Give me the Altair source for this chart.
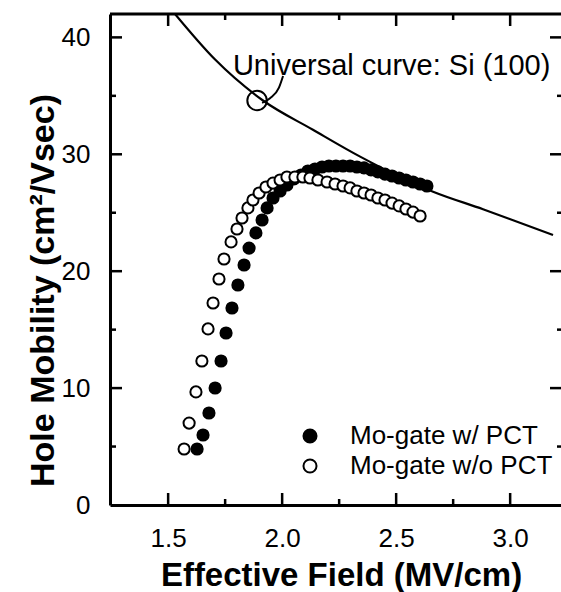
import altair as alt
import pandas as pd

# ---- data ----
E_with = [1.627, 1.653, 1.679, 1.706, 1.732, 1.754, 1.780, 1.806, 1.833, 1.855, 1.885, 1.912,
          1.934, 1.960, 1.991, 2.021, 2.052, 2.083, 2.113, 2.144, 2.175, 2.205, 2.236, 2.267,
          2.298, 2.328, 2.359, 2.390, 2.420, 2.451, 2.482, 2.513, 2.543, 2.574, 2.605, 2.635]
mu_with = [4.79, 5.99, 7.87, 10.01, 12.32, 14.71, 16.85, 18.82, 20.53, 21.98, 23.27, 24.38,
           25.41, 26.26, 26.86, 27.37, 27.89, 28.23, 28.57, 28.74, 28.91, 29.00, 29.00, 29.00,
           29.00, 28.91, 28.83, 28.66, 28.49, 28.31, 28.14, 27.97, 27.80, 27.63, 27.46, 27.29]

E_without = [1.570, 1.592, 1.622, 1.648, 1.675, 1.697, 1.723, 1.745, 1.776, 1.802, 1.824, 1.850,
             1.872, 1.899, 1.929, 1.960, 1.991, 2.021, 2.056, 2.091, 2.122, 2.157, 2.197, 2.232,
             2.267, 2.298, 2.328, 2.359, 2.390, 2.420, 2.451, 2.482, 2.513, 2.543, 2.574, 2.605]
mu_without = [4.79, 7.01, 9.67, 12.32, 15.06, 17.28, 19.33, 21.04, 22.50, 23.61, 24.55, 25.41,
              26.09, 26.69, 27.20, 27.54, 27.80, 28.06, 28.06, 28.06, 27.97, 27.80, 27.63, 27.46,
              27.29, 27.12, 26.86, 26.69, 26.52, 26.26, 26.09, 25.83, 25.58, 25.32, 25.06, 24.72]

E_univ = [1.53, 1.706, 1.916, 2.135, 2.342, 2.662, 2.881, 3.188]
mu_univ = [42.0, 38.1, 34.6, 32.1, 29.8, 26.8, 25.3, 23.1]

series_names = ["Mo-gate w/ PCT", "Mo-gate w/o PCT"]

annot_text = ["Universal curve: Si (100)"]
annot_E = [1.784]
annot_mu = [36.8]
leader_E = [2.004, 1.986, 1.947, 1.912]
leader_mu = [36.7, 35.7, 34.8, 34.4]
loop_E = [1.890]
loop_mu = [34.6]

xt_major = [1.5, 2.0, 2.5, 3.0]
xt_minor = [1.75, 2.25, 2.75]
yt_major = [10, 20, 30, 40]
yt_minor = [5, 15, 25, 35]
y_labels = [0, 10, 20, 30, 40]

# ---- layout ----
W, H = 451, 491
FONT = "Liberation Sans"
xs = alt.Scale(domain=[1.245, 3.223], nice=False, zero=False)
ys = alt.Scale(domain=[0, 42], nice=False, zero=False)

pts = pd.DataFrame({
    "E": E_with + E_without,
    "mu": mu_with + mu_without,
    "series": [series_names[0]] * len(E_with) + [series_names[1]] * len(E_without),
})

points = alt.Chart(pts).mark_point(
    shape="circle", filled=True, size=125, stroke="black", strokeWidth=2, opacity=1
).encode(
    x=alt.X("E:Q", scale=xs, axis=alt.Axis(
        values=xt_major, format=".1f", domain=True, domainWidth=3, domainColor="black",
        ticks=False, tickSize=0, grid=False, labelFontSize=26, labelFont=FONT,
        labelColor="black", labelPadding=20,
        title="Effective Field (MV/cm)", titleFont=FONT, titleFontSize=33,
        titleFontWeight="bold", titleColor="black", titleX=231, titleY=80,
        titleBaseline="alphabetic", titleAlign="center")),
    y=alt.Y("mu:Q", scale=ys, axis=alt.Axis(
        values=y_labels, format="d", domain=True, domainWidth=3, domainColor="black",
        ticks=False, tickSize=0, grid=False, labelFontSize=26, labelFont=FONT,
        labelColor="black", labelPadding=20,
        title="Hole Mobility (cm²/Vsec)", titleFont=FONT, titleFontSize=34,
        titleFontWeight="bold", titleColor="black", titleAngle=270, titleX=-57,
        titleY=276, titleBaseline="alphabetic", titleAlign="center")),
    fill=alt.Fill("series:N", scale=alt.Scale(domain=series_names, range=["black", "white"]),
                  legend=alt.Legend(orient="none", legendX=187, legendY=409, title=None,
                                    labelFontSize=26, labelFont=FONT, labelColor="black",
                                    labelLimit=400,
                                    symbolType="circle", symbolSize=170,
                                    symbolStrokeColor="black", symbolStrokeWidth=2,
                                    labelOffset=27, rowPadding=4, padding=0)),
    order=alt.Order("idx:Q"),
).transform_window(idx="row_number()")

univ = alt.Chart(pd.DataFrame({"E": E_univ, "mu": mu_univ})).mark_line(
    color="black", strokeWidth=2.2, interpolate="monotone", clip=True
).encode(x=alt.X("E:Q", scale=xs), y=alt.Y("mu:Q", scale=ys))

leader = alt.Chart(pd.DataFrame({"E": leader_E, "mu": leader_mu})).mark_line(
    color="black", strokeWidth=2, interpolate="monotone"
).encode(x=alt.X("E:Q", scale=xs), y=alt.Y("mu:Q", scale=ys))

loop = alt.Chart(pd.DataFrame({"E": loop_E, "mu": loop_mu})).mark_point(
    shape="circle", size=380, filled=False, stroke="black", strokeWidth=2, opacity=1
).encode(x=alt.X("E:Q", scale=xs), y=alt.Y("mu:Q", scale=ys))

annot = alt.Chart(pd.DataFrame({"E": annot_E, "mu": annot_mu, "t": annot_text})).mark_text(
    align="left", baseline="alphabetic", fontSize=29, font=FONT, color="black"
).encode(x=alt.X("E:Q", scale=xs), y=alt.Y("mu:Q", scale=ys), text="t:N")


def xticks(vals, y0, y1):
    return alt.Chart(pd.DataFrame({"v": vals})).mark_rule(color="black", strokeWidth=2.5).encode(
        x=alt.X("v:Q", scale=xs), y=alt.value(y0), y2=alt.value(y1))


def yticks(vals, x0, x1):
    return alt.Chart(pd.DataFrame({"v": vals})).mark_rule(color="black", strokeWidth=2.5).encode(
        y=alt.Y("v:Q", scale=ys), x=alt.value(x0), x2=alt.value(x1))


top_line = alt.Chart(pd.DataFrame({"v": [0]})).mark_rule(color="black", strokeWidth=3).encode(
    x=alt.value(0), x2=alt.value(W), y=alt.value(0))

ticks = [
    xticks(xt_major, H, H - 12), xticks(xt_minor, H, H - 6),
    xticks(xt_major, 0, 12), xticks(xt_minor, 0, 6),
    yticks(yt_major, 0, 12), yticks(yt_minor, 0, 6),
    yticks(yt_major, W, W - 11), yticks(yt_minor, W, W - 4),
]

chart = alt.layer(points, univ, leader, loop, annot, top_line, *ticks).properties(
    width=W, height=H,
    autosize=alt.AutoSizeParams(type="none"),
    padding={"left": 110, "top": 14, "right": 0, "bottom": 87},
    background="white",
).configure_view(strokeWidth=0)

chart.save("out.html", embed_options={"renderer": "svg", "actions": False})
